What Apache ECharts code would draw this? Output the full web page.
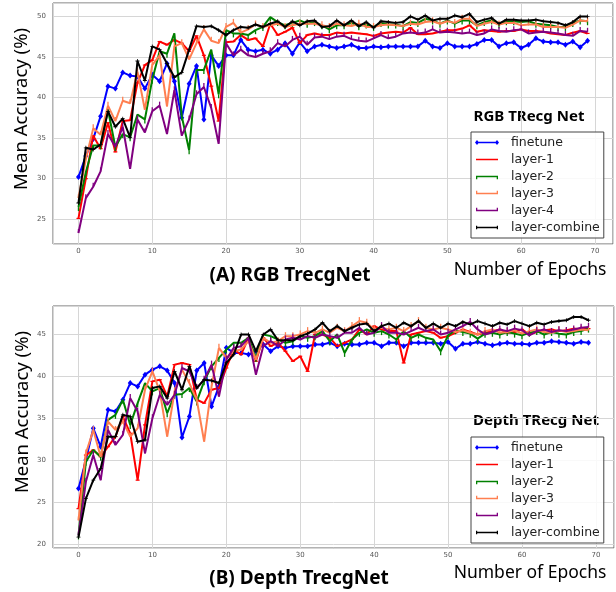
<!DOCTYPE html>
<html>
<head>
<meta charset="utf-8">
<script src="https://cdn.jsdelivr.net/npm/echarts@6/dist/echarts.min.js"></script>
<style>
html,body{margin:0;padding:0;background:#fff;}
#c{width:616px;height:592px;}
</style>
</head>
<body>
<div id="c"></div>
<script>
const seriesNames = ['finetune', 'layer-1', 'layer-2', 'layer-3', 'layer-4', 'layer-combine'];
const xTicks = [0, 10, 20, 30, 40, 50, 60, 70];
const rgbYTicks = [25, 30, 35, 40, 45, 50];
const depthYTicks = [20, 25, 30, 35, 40, 45];

// (A) RGB TrecgNet, epochs 0..69
const rgbFinetune = [30.2,32.8,34.9,37.7,41.4,41.1,43.1,42.7,42.6,41.1,42.8,42.0,44.2,42.0,37.5,41.7,43.9,37.3,45.2,43.9,45.2,45.2,47.1,45.9,45.7,
  45.9,45.4,45.9,46.7,45.4,46.8,45.7,46.3,46.5,46.3,46.1,46.3,46.5,46.1,46.1,46.3,46.2,46.3,46.3,46.3,46.3,46.3,47.0,46.3,46.1,
  46.7,46.3,46.3,46.3,46.6,47.1,47.1,46.3,46.7,46.8,46.1,46.5,47.3,46.9,46.8,46.8,46.5,46.9,46.2,47.0];
const rgbLayer1 = [25.1,30.0,35.3,33.7,36.9,33.3,37.1,37.2,41.8,44.0,44.6,46.9,46.5,47.1,46.7,45.7,47.6,45.2,41.4,37.1,46.8,46.9,47.7,47.1,47.3,
  46.3,49.1,47.7,48.1,48.6,46.7,47.7,47.9,47.7,47.7,48.0,47.9,48.0,47.9,47.8,47.6,47.9,48.0,48.1,48.0,48.6,47.8,47.8,47.9,48.1,
  48.3,48.3,48.5,48.9,48.1,48.3,48.2,48.1,48.2,48.2,48.4,48.2,48.2,48.1,47.9,47.8,47.7,48.0,48.2,47.9];
const rgbLayer2 = [26.5,30.8,34.1,34.1,38.5,33.9,35.5,35.1,37.9,37.3,42.2,45.7,45.4,47.9,37.7,33.5,43.4,43.4,45.9,40.4,48.3,47.9,47.9,47.7,48.3,
  48.7,49.9,49.3,48.9,49.2,49.5,49.1,49.3,48.9,48.4,48.9,48.9,49.2,48.8,49.0,48.7,49.2,49.0,49.0,48.8,49.3,49.2,49.7,49.5,49.1,
  49.5,49.1,49.5,49.5,48.9,49.3,49.5,49.0,49.4,49.4,49.3,49.4,49.1,49.0,48.9,48.7,48.7,49.2,49.5,49.4];
const rgbLayer3 = [27.6,32.4,36.2,35.4,39.0,37.1,39.6,39.3,43.2,38.5,44.0,45.2,38.9,46.3,46.7,44.7,46.7,48.4,47.0,46.7,48.7,49.2,48.0,48.4,49.0,
  48.7,48.9,49.1,48.7,48.9,49.1,49.1,49.1,48.9,48.7,49.1,48.9,48.8,49.1,48.7,48.7,48.9,49.0,48.9,48.8,49.1,49.0,49.3,49.4,49.1,
  49.4,49.2,49.7,49.7,48.8,49.1,49.3,49.0,49.2,49.2,48.9,49.0,49.0,48.7,48.7,48.7,48.6,49.0,49.5,49.4];
const rgbLayer4 = [23.3,27.6,29.0,30.9,35.5,33.9,36.4,31.2,37.3,35.7,38.3,39.0,35.5,40.9,35.3,37.3,40.4,41.3,38.7,34.3,46.7,45.2,45.9,45.2,45.0,
  45.4,45.7,46.7,46.3,47.1,47.5,46.5,47.4,47.5,47.2,47.5,47.6,47.2,47.0,46.9,47.3,47.7,47.3,47.5,47.9,48.0,47.9,48.0,48.4,48.0,
  48.1,48.0,47.9,48.0,47.7,47.9,48.4,48.2,48.1,48.3,48.4,47.9,48.0,48.1,48.0,47.9,47.7,47.6,48.2,48.1];
const rgbCombine = [27.0,33.8,33.6,34.2,38.3,36.4,37.4,35.1,44.5,42.1,46.3,45.9,44.2,42.5,43.1,45.9,48.8,48.7,48.8,48.3,47.7,48.3,48.7,48.6,49.0,
  48.7,49.1,49.4,48.7,49.4,48.9,49.4,49.5,48.7,48.8,49.5,48.9,49.5,48.8,49.3,48.6,49.4,49.3,49.2,49.3,50.0,49.6,50.1,49.5,49.7,
  49.7,50.1,49.9,50.3,49.3,49.6,49.8,49.1,49.6,49.6,49.5,49.5,49.6,49.4,49.3,49.2,48.9,49.3,50.0,50.0];

// (B) Depth TrecgNet, epochs 0..69
const depthFinetune = [26.6,30.0,33.8,31.6,36.0,35.8,37.2,39.2,38.8,40.2,40.8,41.2,40.7,39.2,32.7,35.2,40.7,41.6,36.4,38.8,43.4,42.8,42.8,42.6,43.0,
  43.8,43.0,43.6,43.4,43.6,43.6,43.6,43.8,43.8,44.0,43.6,43.9,43.8,43.8,44.0,44.0,43.6,44.0,44.0,43.6,44.0,44.0,44.0,44.0,43.9,
  44.1,43.3,43.9,43.9,44.1,43.9,43.7,43.9,44.0,43.9,43.9,43.8,44.0,44.0,44.2,44.1,44.0,43.9,44.1,44.0];
const depthLayer1 = [24.2,30.6,31.2,30.4,31.6,32.8,35.2,33.2,27.6,34.2,39.4,39.6,37.6,41.4,41.6,41.4,37.2,36.8,38.4,38.6,41.0,43.2,42.6,44.6,41.8,
  44.6,43.6,44.0,43.0,41.8,42.4,40.6,45.0,45.0,44.6,43.6,44.0,44.4,45.6,45.0,46.0,45.6,45.4,45.4,41.6,45.0,45.2,45.4,45.2,44.6,
  44.8,45.2,45.6,45.3,45.0,45.2,45.4,45.6,45.2,45.3,45.6,45.0,45.3,45.5,45.6,45.4,45.5,45.7,45.6,45.7];
const depthLayer2 = [21.0,29.8,31.2,30.4,34.8,35.4,37.2,34.2,36.8,39.2,38.2,38.6,35.6,37.8,37.9,38.6,37.0,39.4,41.2,42.2,43.2,44.0,44.0,44.6,42.2,
  45.0,44.8,44.4,44.0,44.2,44.8,44.6,44.8,45.4,44.2,45.0,42.8,44.4,45.2,45.6,45.2,45.4,45.0,44.4,45.4,44.6,45.0,44.6,44.4,43.0,
  44.9,45.5,45.3,45.1,44.5,45.1,45.2,45.0,45.3,45.1,44.9,45.2,45.4,45.0,45.3,45.1,45.0,45.3,45.4,45.7];
const depthLayer3 = [22.8,30.8,33.6,30.4,34.6,33.6,34.6,32.8,33.8,38.4,40.6,38.2,32.8,38.2,40.8,39.2,37.2,32.2,38.8,43.4,42.2,43.0,43.2,44.2,42.0,
  44.6,44.0,44.2,44.8,44.8,45.0,45.4,45.2,45.6,45.2,45.8,45.4,46.0,46.6,46.4,45.6,45.8,45.6,45.8,45.4,46.0,46.6,45.8,45.6,45.8,
  45.6,45.3,45.5,45.2,45.0,45.4,45.6,45.2,45.3,45.5,45.1,45.4,45.6,45.3,45.2,45.5,45.3,45.4,45.6,45.5];
const depthLayer4 = [21.0,27.4,30.6,27.6,33.6,31.8,33.0,37.4,35.8,30.8,35.0,37.8,36.6,37.8,41.0,40.6,38.6,39.6,41.4,37.6,42.0,43.4,43.6,44.6,40.2,
  43.6,44.2,43.6,44.4,44.6,44.4,44.8,44.6,45.0,44.8,44.6,45.2,45.2,45.8,45.0,45.2,46.0,45.2,45.2,45.0,45.4,45.8,45.4,45.6,45.0,
  45.2,45.6,46.0,46.5,45.6,45.0,45.3,45.6,45.4,45.7,45.5,44.9,45.4,45.6,45.3,45.5,45.4,45.6,45.8,45.9];
const depthCombine = [20.8,25.4,27.6,29.0,32.8,32.8,35.4,35.2,32.2,32.4,38.6,38.8,37.4,40.6,38.4,41.2,38.6,39.6,39.5,39.2,41.6,42.6,45.0,45.0,43.0,
  45.0,45.6,44.3,44.3,44.3,44.8,45.1,45.6,46.4,45.4,46.0,45.4,45.8,46.2,46.3,45.4,46.0,46.3,45.8,46.4,46.0,46.6,45.8,46.3,45.8,
  46.3,46.0,46.5,46.2,46.6,46.3,46.0,46.4,46.2,46.6,46.3,46.0,46.4,46.2,46.5,46.6,46.7,47.1,47.1,46.7];

const rgbData = [rgbFinetune, rgbLayer1, rgbLayer2, rgbLayer3, rgbLayer4, rgbCombine];
const depthData = [depthFinetune, depthLayer1, depthLayer2, depthLayer3, depthLayer4, depthCombine];

const colors = ['#0000ff', '#ff0000', '#008000', '#ff7f50', '#800080', '#000000'];
const symbols = [
  {symbol: 'diamond', symbolSize: [5, 6], symbolOffset: [0, 0]},
  {symbol: 'rect', symbolSize: [4, 1.2], symbolOffset: [0, 0]},
  {symbol: 'rect', symbolSize: [1.3, 4], symbolOffset: [0, 2]},
  {symbol: 'rect', symbolSize: [1.3, 4], symbolOffset: [0, -2]},
  {symbol: 'rect', symbolSize: [1.3, 4], symbolOffset: [0, -2]},
  {symbol: 'path://M4,0h2v4h4v2h-4v4h-2v-4h-4v-2h4z', symbolSize: 4, symbolOffset: [0, 0]}
];

// legend icons drawn in a 24x8 box (corner specks keep the box size)
const corners = 'M0,0h0.02v0.02h-0.02z M24,8h-0.02v-0.02h0.02z ';
const legendIcons = [
  corners + 'M0,4L2,1.6L4,4L2,6.4Z M20,4L22,1.6L24,4L22,6.4Z M2,3.2H22V4.8H2Z',
  corners + 'M1,3.2H23V4.8H1Z',
  corners + 'M1,3.2H23V4.8H1Z M1,3.2h1.3v3.6h-1.3z M21.7,3.2h1.3v3.6h-1.3z',
  corners + 'M1,3.2H23V4.8H1Z M1,1.2h1.3v3.6h-1.3z M21.7,1.2h1.3v3.6h-1.3z',
  corners + 'M1,3.2H23V4.8H1Z M1,1.2h1.3v3.6h-1.3z M21.7,1.2h1.3v3.6h-1.3z',
  corners + 'M1,3.3H23V4.7H1Z M1,2.2h1.2v3.6h-1.2z M21.8,2.2h1.2v3.6h-1.2z'
];

const tickFont = {fontFamily: 'DejaVu Sans', fontSize: 7, color: '#555'};

function xAx(gi) {
  return {
    type: 'value', gridIndex: gi, min: -3.45, max: 72.45,
    minInterval: 10, maxInterval: 10,
    axisLine: {show: false}, axisTick: {show: false},
    axisLabel: Object.assign({margin: 4, showMinLabel: false, showMaxLabel: false,
      formatter: v => xTicks.indexOf(v) >= 0 ? String(v) : ''}, tickFont),
    splitLine: {show: true, lineStyle: {color: '#d6d6d6', width: 1}}
  };
}
function yAx(gi, mn, mx, ticks) {
  return {
    type: 'value', gridIndex: gi, min: mn, max: mx,
    minInterval: 5, maxInterval: 5,
    axisLine: {show: false}, axisTick: {show: false},
    axisLabel: Object.assign({margin: 7, showMinLabel: false, showMaxLabel: false,
      formatter: v => ticks.indexOf(v) >= 0 ? String(v) : ''}, tickFont),
    splitLine: {show: true, lineStyle: {color: '#d6d6d6', width: 1}}
  };
}

const series = [];
[rgbData, depthData].forEach((set, gi) => {
  set.forEach((vals, si) => {
    series.push(Object.assign({
      type: 'line', name: seriesNames[si], xAxisIndex: gi, yAxisIndex: gi,
      data: vals.map((v, i) => [i, v]),
      showSymbol: true, showAllSymbol: true,
      lineStyle: {color: colors[si], width: 2},
      itemStyle: {color: colors[si]},
      emphasis: {disabled: true}, animation: false, z: 2 + si
    }, symbols[si]));
  });
});

function legend(top) {
  return {
    orient: 'vertical', left: 471, top: top, selectedMode: false,
    padding: [2, 4, 2, 4], itemGap: 0, itemWidth: 24, itemHeight: 8,
    borderColor: '#444', borderWidth: 1, borderRadius: 0,
    backgroundColor: 'rgba(255,255,255,0.85)',
    textStyle: {fontFamily: 'DejaVu Sans', fontSize: 12.5, color: '#222', lineHeight: 17, padding: [0, 0, 0, 7]},
    data: seriesNames.map((n, i) => ({name: n, icon: 'path://' + legendIcons[i], itemStyle: {color: colors[i]}}))
  };
}

function txt(x, y, text, size, weight, extra) {
  return Object.assign({
    type: 'text', x: x, y: y,
    style: {text: text, fontFamily: 'Noto Sans', fontSize: size, fontWeight: weight,
      fill: '#000', textAlign: 'center', textVerticalAlign: 'middle'}
  }, extra || {});
}

const chart = echarts.init(document.getElementById('c'), null, {renderer: 'canvas'});
chart.setOption({
  animation: false,
  backgroundColor: '#fff',
  grid: [
    {left: 53, top: 3, right: 3, height: 241, show: true, borderColor: '#666', borderWidth: 1, containLabel: false},
    {left: 53, top: 306, right: 2, height: 242, show: true, borderColor: '#666', borderWidth: 1, containLabel: false}
  ],
  xAxis: [xAx(0), xAx(1)],
  yAxis: [yAx(0, 21.95, 51.65, rgbYTicks), yAx(1, 19.5, 48.4, depthYTicks)],
  legend: [legend(132), legend(437)],
  series: series,
  graphic: [
    txt(529, 117, 'RGB TRecg Net', 15, 'bold'),
    txt(536, 421, 'Depth TRecg Net', 15, 'bold'),
    txt(290, 276, '(A) RGB TrecgNet', 19, 'bold'),
    txt(299, 579, '(B) Depth TrecgNet', 19, 'bold'),
    txt(530, 270, 'Number of Epochs', 17.5, 'normal'),
    txt(530, 573, 'Number of Epochs', 17.5, 'normal'),
    txt(22, 109, 'Mean Accuracy (%)', 18.5, 'normal', {rotation: Math.PI / 2}),
    txt(23, 412, 'Mean Accuracy (%)', 18.5, 'normal', {rotation: Math.PI / 2})
  ]
});
</script>
</body>
</html>
